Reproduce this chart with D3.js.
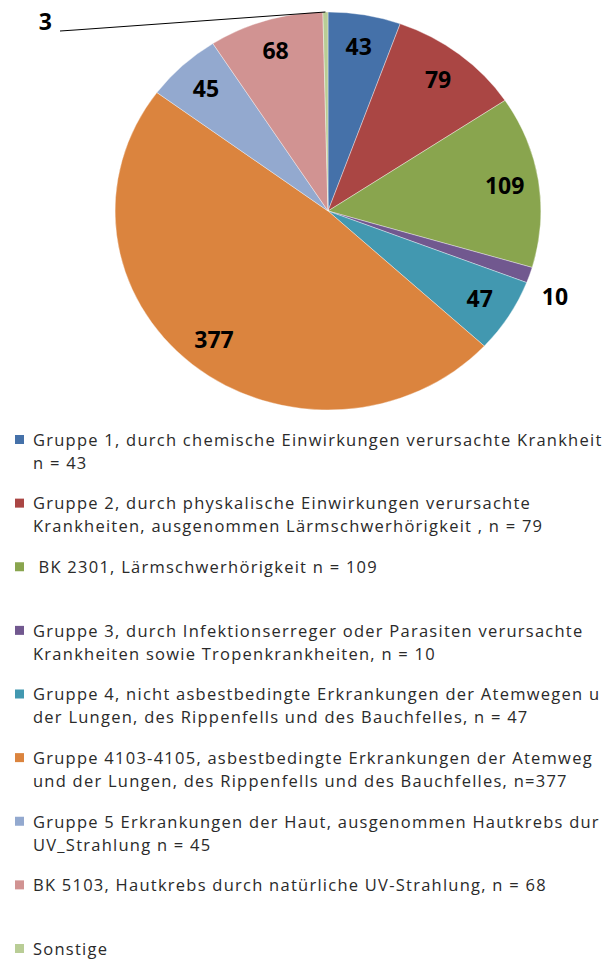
<!DOCTYPE html>
<html>
<head>
<meta charset="utf-8">
<script src="https://cdn.jsdelivr.net/npm/d3@7"></script>
<style>
  body { margin: 0; background: #fff; }
  svg { display: block; }
</style>
</head>
<body>
<div id="chart"></div>
<script>
// values of the slices, clockwise from 12 o'clock
const values = [43, 79, 109, 10, 47, 377, 45, 68, 3]
const colors = ["#4571a9", "#aa4644", "#89a54e", "#71588f", "#4298b0", "#db843e", "#93a9cf", "#d19392", "#b9cd96"]
// legend text as far as the picture shows it (long lines run off the right edge)
const legendLines = [
    ["Gruppe 1, durch chemische Einwirkungen verursachte Krankheit", "n = 43"],
    ["Gruppe 2, durch physkalische Einwirkungen verursachte", "Krankheiten, ausgenommen Lärmschwerhörigkeit , n = 79"],
    [" BK 2301, Lärmschwerhörigkeit n = 109"],
    ["Gruppe 3, durch Infektionserreger oder Parasiten verursachte", "Krankheiten sowie Tropenkrankheiten, n = 10"],
    ["Gruppe 4, nicht asbestbedingte Erkrankungen der Atemwegen u", "der Lungen, des Rippenfells und des Bauchfelles, n = 47"],
    ["Gruppe 4103-4105, asbestbedingte Erkrankungen der Atemweg", "und der Lungen, des Rippenfells und des Bauchfelles, n=377"],
    ["Gruppe 5 Erkrankungen der Haut, ausgenommen Hautkrebs dur", "UV_Strahlung n = 45"],
    ["BK 5103, Hautkrebs durch natürliche UV-Strahlung, n = 68"],
    ["Sonstige"]
]

const width = 611, height = 959
const cx = 328, cy = 211
const radius = 199
const sx = 1.07   // the pie in the picture is a bit wider than tall

const svg = d3.select("#chart")
    .append("svg")
    .attr("width", width)
    .attr("height", height)

const pie = d3.pie().sort(null).value(d => d)
const arcs = pie(values)

const arc = d3.arc().innerRadius(0).outerRadius(radius)
const labelArc = d3.arc().innerRadius(167).outerRadius(167)
const outerArc = d3.arc().innerRadius(224).outerRadius(224)
const edgeArc = d3.arc().innerRadius(radius).outerRadius(radius)

const g = svg.append("g")
    .attr("transform", `translate(${cx}, ${cy})`)

g.append("g")
    .attr("transform", `scale(${sx}, 1)`)
    .selectAll("path")
    .data(arcs)
    .enter().append("path")
    .attr("d", arc)
    .attr("fill", (d, i) => colors[i])
    .attr("stroke", "#ffffff")
    .attr("stroke-opacity", 0.6)
    .attr("stroke-width", 0.6)

// labels: inside for big slices, outside for small ones, leader line for the tiniest
const labelPos = d => {
    if (d.value < 5) return [60 - cx, 31 - cy]
    if (d.value < 20) {
        const p = outerArc.centroid(d)
        return [p[0] * sx, p[1] + 14]
    }
    const p = labelArc.centroid(d)
    return [p[0] * sx, p[1]]
}

arcs.filter(d => d.value < 5).forEach(d => {
    const e = edgeArc.centroid(d)
    const end = labelPos(d)
    g.append("path")
        .attr("d", d3.line()([[e[0] * sx, e[1]], [end[0] + 15, end[1] - 1], end]))
        .attr("fill", "none")
        .attr("stroke", "#000")
        .attr("stroke-width", 1)
})

g.selectAll("text.val")
    .data(arcs)
    .enter().append("text")
    .attr("class", "val")
    .attr("x", d => labelPos(d)[0] - (d.value < 5 ? 8 : 0))
    .attr("y", d => labelPos(d)[1] - (d.value < 5 ? 9 : 0))
    .attr("dy", "0.35em")
    .attr("text-anchor", d => d.value < 5 ? "end" : "middle")
    .attr("font-family", "Open Sans, sans-serif")
    .attr("font-weight", "bold")
    .attr("font-size", 23)
    .attr("fill", "#000")
    .text(d => d.value)

// legend
const legendY = d3.scaleLinear().domain([0, 8]).range([440, 949])

const items = svg.append("g")
    .selectAll("g")
    .data(legendLines)
    .enter().append("g")
    .attr("transform", (d, i) => `translate(0, ${legendY(i)})`)

items.append("rect")
    .attr("x", 15)
    .attr("y", -5)
    .attr("width", 9)
    .attr("height", 9)
    .attr("fill", (d, i) => colors[i])

items.append("text")
    .attr("font-family", "Open Sans, sans-serif")
    .attr("font-size", 16.5)
    .attr("letter-spacing", 1.25)
    .attr("fill", "#2a2a2a")
    .attr("xml:space", "preserve")
    .selectAll("tspan")
    .data(d => d)
    .enter().append("tspan")
    .attr("x", 33)
    .attr("y", (d, j) => j * 23)
    .attr("dy", "0.35em")
    .text(d => d)
</script>
</body>
</html>
